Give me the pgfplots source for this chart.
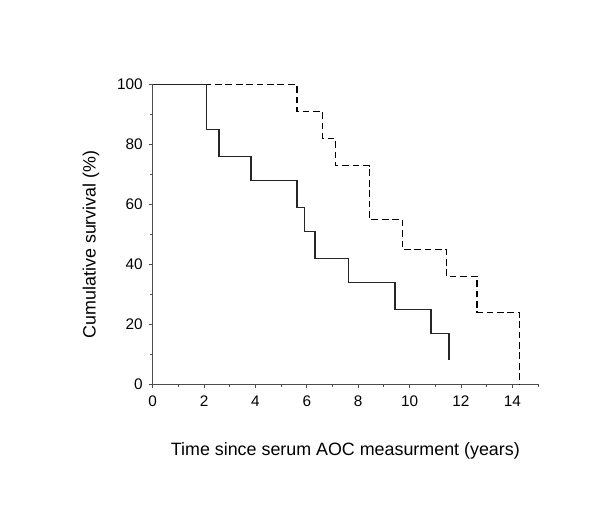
\documentclass[border=0pt]{standalone}
\usepackage{fontspec}
\setmainfont{Liberation Sans}
\usepackage{pgfplots}
\pgfplotsset{compat=1.18}
\begin{document}
\begin{tikzpicture}
\begin{axis}[
    scale only axis,
    width=289pt, height=224.7pt,
    xmin=0, xmax=15, ymin=0, ymax=100,
    axis lines*=left,
    axis line style={draw=black!70, line width=0.8pt},
    xtick={0,2,...,14}, ytick={0,20,...,100},
    minor xtick={1,3,...,15}, minor ytick={10,30,...,90},
    tick align=outside,
    major tick length=3pt, minor tick length=2pt,
    tick style={black!70, line width=0.6pt},
    ticklabel style={font=\fontsize{11.5}{13}\selectfont},
    /pgf/number format/assume math mode=true,
    xticklabel style={yshift=-2pt},
    yticklabel style={xshift=-1pt},
    every axis y label/.style={at={(axis description cs:-0.16,0.467)}, rotate=90, anchor=center},
    every axis x label/.style={at={(axis description cs:0.5,-0.2225)}, anchor=center},
    label style={font=\fontsize{13.4}{16}\selectfont},
    xlabel={Time since serum AOC measurment (years)},
    ylabel={Cumulative survival (\%)},
    clip=false,
]
\addplot[const plot, black, line width=1.1pt, dash pattern=on 5pt off 2.8pt] coordinates {
    (0,100) (5.61,91) (6.62,82) (7.11,73) (8.44,55) (9.72,45) (11.43,36) (12.63,24) (14.27,0)
};
\addplot[const plot, black!85, line width=1.1pt] coordinates {
    (0,100) (2.10,85) (2.59,76) (3.83,68) (5.61,59) (5.91,51) (6.32,42) (7.63,34) (9.44,25) (10.83,17) (11.54,8)
};
\end{axis}
\path (-114.5pt,-109.3pt) rectangle (335.5pt,288.2pt);
\end{tikzpicture}
\end{document}
